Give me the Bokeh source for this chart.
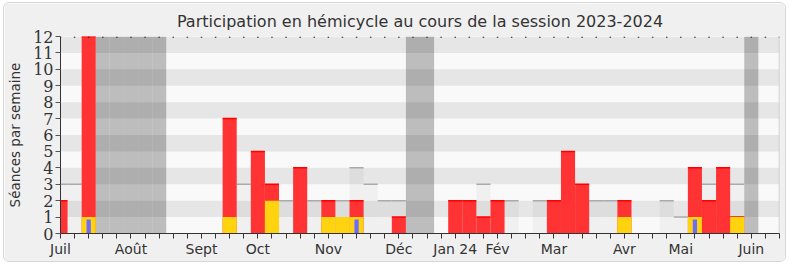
from bokeh.plotting import figure
from bokeh.models import Range1d, FixedTicker, Span
from bokeh.embed import file_html
from bokeh.resources import INLINE

# ---- data (one value per week of the session) ----
weeks = list(range(52))
presences = [2, 0, 12, 0, 0, 0, 0, 0, 0, 0,
             0, 0, 7, 0, 5, 3, 0, 4, 0, 2,
             0, 2, 0, 0, 1, 0, 0, 0, 2, 2,
             1, 2, 0, 0, 0, 2, 5, 3, 0, 0,
             2, 0, 0, 0, 0, 4, 2, 4, 1, 0,
             0, 0]
interventions = [0, 0, 1, 0, 0, 0, 0, 0, 0, 0,
                 0, 0, 1, 0, 0, 2, 0, 0, 0, 1,
                 1, 1, 0, 0, 0, 0, 0, 0, 0, 0,
                 0, 0, 0, 0, 0, 0, 0, 0, 0, 0,
                 1, 0, 0, 0, 0, 1, 0, 0, 1, 0,
                 0, 0]
questions = [0, 0, 0.85, 0, 0, 0, 0, 0, 0, 0,
             0, 0, 0, 0, 0, 0, 0, 0, 0, 0,
             0, 0.85, 0, 0, 0, 0, 0, 0, 0, 0,
             0, 0, 0, 0, 0, 0, 0, 0, 0, 0,
             0, 0, 0, 0, 0, 0.85, 0, 0, 0, 0,
             0, 0]
mediane = [3, 3, 0, 0, 0, 0, 0, 0, 0, 0,
           0, 0, 0, 3, 0, 0, 2, 0, 2, 0,
           2, 4, 3, 2, 2, 0, 0, 0, 0, 0,
           3, 0, 2, 0, 2, 0, 0, 2, 2, 2,
           0, 0, 0, 2, 1, 0, 3, 3, 3, 0,
           0, 0]
vacances = [3, 4, 5, 6, 7, 25, 26, 49]
month_labels = {0: "Juil", 5: "Août", 10: "Sept", 14: "Oct", 19: "Nov", 24: "Déc",
                28: "Jan 24", 31: "Fév", 35: "Mar", 40: "Avr", 44: "Mai", 49: "Juin"}
y_ticks = list(range(13))
y_max = 12

p = figure(frame_width=719, frame_height=197,
           x_range=Range1d(0, 51), y_range=Range1d(0, y_max),
           output_backend="svg", toolbar_location=None,
           title="Participation en hémicycle au cours de la session 2023-2024",
           min_border_left=55, min_border_right=6, min_border_top=33, min_border_bottom=28)
p.styles = {"margin-left": "3px", "margin-top": "2px", "border": "1px solid #d6d6d6",
            "border-radius": "6px", "overflow": "hidden"}
p.background_fill_color = "#f9f9f9"
p.border_fill_color = "#f0f0f0"
p.outline_line_color = None
p.xgrid.visible = False
p.ygrid.visible = False

p.title.text_font = "DejaVu Sans"
p.title.text_font_size = "16px"
p.title.text_font_style = "normal"
p.title.text_color = "#333333"
p.title.align = "center"
p.title.standoff = 12

# vacation columns
p.vbar(x=vacances, width=1, top=y_max, bottom=0, fill_color="#bdbdbd", line_color=None)
# alternating stripes
stripe_rows = [y + 0.5 for y in y_ticks[1:y_max:2]]
p.hbar(y=stripe_rows, height=1, left=-1, right=52, fill_color="black", fill_alpha=0.075, line_color=None)

# median presence
mw = [w for w, m in zip(weeks, mediane) if m > 0]
mv = [m for m in mediane if m > 0]
p.vbar(x=mw, width=1, top=mv, bottom=0, fill_color="black", fill_alpha=0.035, line_color=None)
p.segment(x0=[w - 0.5 for w in mw], x1=[w + 0.5 for w in mw], y0=mv, y1=mv,
          line_color="#aaaaaa", line_width=1.5)

# presences
pw = [w for w, v in zip(weeks, presences) if v > 0]
pv = [v for v in presences if v > 0]
p.vbar(x=pw, width=1, top=pv, bottom=0, fill_color="#ff3333", line_color=None)
p.segment(x0=[w - 0.5 for w in pw], x1=[w + 0.5 for w in pw], y0=pv, y1=pv,
          line_color="#ff0000", line_width=1.5)

# interventions
iw = [w for w, v in zip(weeks, interventions) if v > 0]
iv = [v for v in interventions if v > 0]
p.vbar(x=iw, width=1, top=iv, bottom=0, fill_color="#ffd30f", line_color=None)

# questions
qw = [w for w, v in zip(weeks, questions) if v > 0]
qv = [v for v in questions if v > 0]
p.vbar(x=qw, width=0.3, top=qv, bottom=0, fill_color="#6b6bff", line_color=None)

# small ticks along the top edge
p.segment(x0=weeks, x1=weeks, y0=[y_max] * len(weeks), y1=[y_max - 0.08] * len(weeks),
          line_color="#222222", line_width=1.5)

# right edge line
p.add_layout(Span(location=51, dimension="height", line_color="#c4c4c4", line_width=1.5))

# axes
xa = p.xaxis[0]
xa.ticker = FixedTicker(ticks=weeks)
xa.major_label_overrides = {w: month_labels.get(w, "") for w in weeks}
xa.major_label_text_font = "DejaVu Sans"
xa.major_label_text_font_size = "14px"
xa.major_label_text_color = "#333333"
xa.major_label_standoff = 2
xa.major_tick_out = 5
xa.major_tick_in = 0
xa.minor_tick_line_color = None
xa.axis_line_color = "#333333"
xa.major_tick_line_color = "#333333"

ya = p.yaxis[0]
ya.ticker = FixedTicker(ticks=y_ticks)
ya.major_label_text_font = "DejaVu Serif"
ya.major_label_text_font_size = "16px"
ya.major_label_text_color = "#333333"
ya.major_label_standoff = 2
ya.major_tick_out = 5
ya.major_tick_in = 0
ya.minor_tick_line_color = None
ya.axis_line_color = "#333333"
ya.major_tick_line_color = "#555555"
ya.axis_label = "Séances par semaine"
ya.axis_label_text_font = "DejaVu Sans"
ya.axis_label_text_font_size = "13.5px"
ya.axis_label_text_font_style = "normal"
ya.axis_label_text_color = "#333333"
ya.axis_label_standoff = 7

open("out.html", "w").write(file_html(p, INLINE))
